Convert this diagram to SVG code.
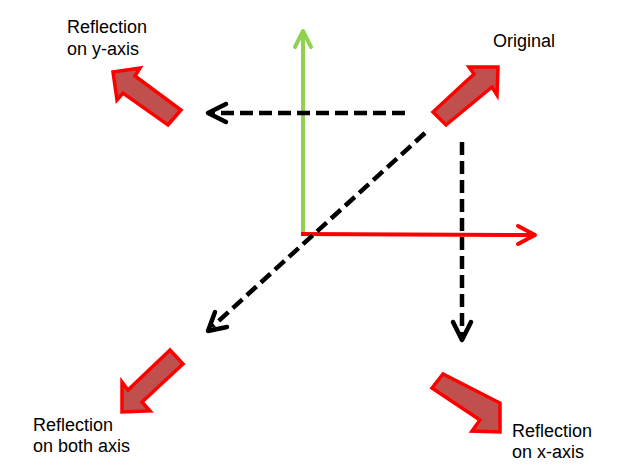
<svg xmlns="http://www.w3.org/2000/svg" width="625" height="474" viewBox="0 0 625 474">
<defs>
<style>
.blk{fill:#C0504D;stroke:#FF0000;stroke-width:3.5;stroke-linejoin:miter}
.lbl{font-family:"Liberation Sans",Arial,sans-serif;font-size:18px;fill:#000}
.dash{fill:none;stroke:#000;stroke-width:4.5;stroke-dasharray:13 6}
.head{fill:none;stroke:#000;stroke-width:4.5;stroke-linecap:round;stroke-linejoin:round}
</style>
</defs>
<rect width="625" height="474" fill="#fff"/>
<g id="axes">
<g id="y-axis">
<line x1="303" y1="234" x2="303" y2="31" stroke="#92D050" stroke-width="4"/>
<polyline points="295,47 303,31 311,47" fill="none" stroke="#92D050" stroke-width="4" stroke-linecap="round" stroke-linejoin="round"/>
</g>
<g id="x-axis">
<line x1="301" y1="234" x2="535" y2="235" stroke="#FF0000" stroke-width="4"/>
<polyline points="518,226 535,235 518,244" fill="none" stroke="#FF0000" stroke-width="4" stroke-linecap="round" stroke-linejoin="round"/>
</g>
</g>
<g id="connectors">
<line class="dash" x1="405" y1="113" x2="212" y2="113"/>
<polyline class="head" points="226,104 208,113 226,122"/>
<line class="dash" x1="462" y1="142" x2="462" y2="336"/>
<polyline class="head" points="453,322 462,340 471,322"/>
<line class="dash" x1="425" y1="133" x2="212" y2="327"/>
<polyline class="head" points="215,312 208,331 227,327"/>
</g>
<g id="original">
<polygon class="blk" points="433,112 474,74 469,67 498,67 497,95 492,87 446,125"/>
<text class="lbl" x="493" y="47">Original</text>
</g>
<g id="reflection-y">
<polygon class="blk" points="113,72 140,68 135,76 181,110 168,125 123,93 117,100"/>
<text class="lbl"><tspan x="67" y="33">Reflection</tspan><tspan x="67" y="55">on y-axis</tspan></text>
</g>
<g id="reflection-both">
<polygon class="blk" points="122,412 122,382 128,390 170,350 183,364 142,402 150,411"/>
<text class="lbl"><tspan x="33" y="431">Reflection</tspan><tspan x="33" y="452">on both axis</tspan></text>
</g>
<g id="reflection-x">
<polygon class="blk" points="500,432 500,403 492,399 443,374 432,388 480,420 472,431"/>
<text class="lbl"><tspan x="512" y="437">Reflection</tspan><tspan x="512" y="458">on x-axis</tspan></text>
</g>
</svg>
